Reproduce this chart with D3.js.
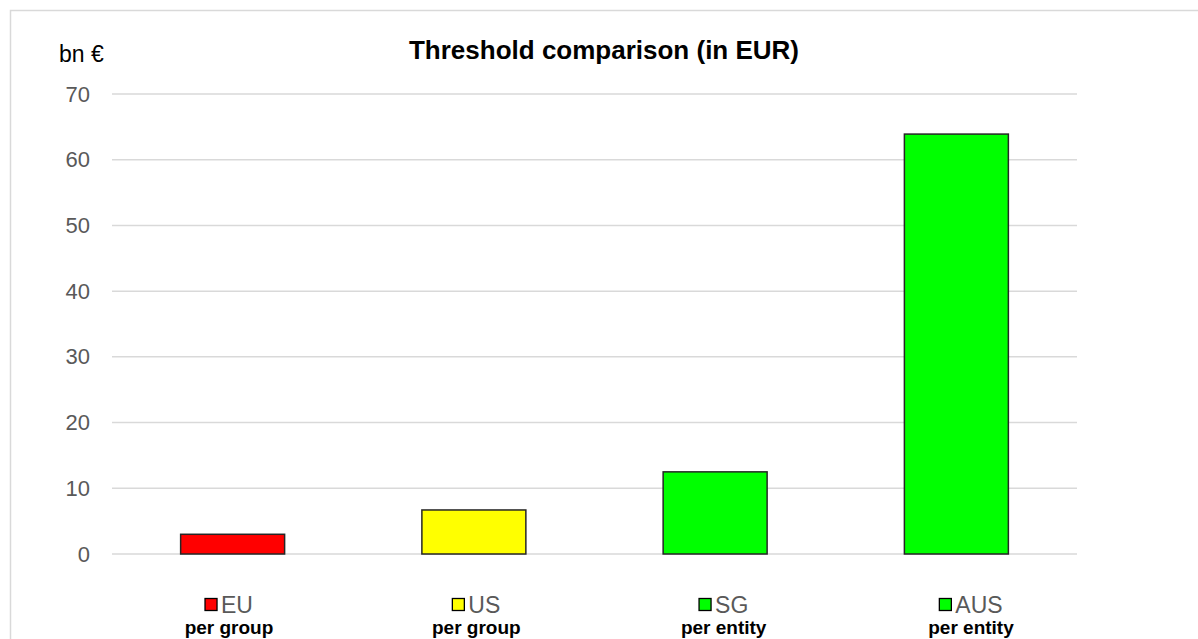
<!DOCTYPE html>
<html>
<head>
<meta charset="utf-8">
<script src="https://cdn.jsdelivr.net/npm/d3@7"></script>
<style>
  html, body { margin: 0; padding: 0; background: #fff; }
  svg { display: block; font-family: "Liberation Sans", Arial, sans-serif; }
</style>
</head>
<body>
<svg id="chart" width="1198" height="639"></svg>
<script>
// ---- data ----
const categories = ["EU", "US", "SG", "AUS"];
const values = [3.0, 6.7, 12.5, 63.9];
const scopeLabels = ["per group", "per group", "per entity", "per entity"];
const barColors = ["#ff0000", "#ffff00", "#00ff00", "#00ff00"];
const yTicks = [0, 10, 20, 30, 40, 50, 60, 70];
const titleText = "Threshold comparison (in EUR)";
const unitText = "bn €";

// ---- layout ----
const svg = d3.select("#chart");

// outer chart frame
svg.append("rect")
  .attr("x", 10.5).attr("y", 10.5)
  .attr("width", 1250).attr("height", 700)
  .attr("fill", "#fff").attr("stroke", "#d9d9d9").attr("stroke-width", 1.5);

const x = d3.scaleBand()
  .domain(categories)
  .range([112, 1077])
  .paddingInner(0.569)
  .paddingOuter(0.2845);

const y = d3.scaleLinear().domain([0, 70]).range([554, 94]);

// gridlines
svg.append("g").selectAll("line")
  .data(yTicks)
  .join("line")
  .attr("x1", 112).attr("x2", 1077)
  .attr("y1", d => y(d)).attr("y2", d => y(d))
  .attr("stroke", "#d9d9d9").attr("stroke-width", 1.5);

// y axis labels
const yAxis = d3.axisLeft(y).tickValues(yTicks).tickSize(0).tickPadding(0).tickFormat(d3.format("d"));
const gy = svg.append("g").attr("transform", "translate(90,0)").call(yAxis);
gy.select(".domain").remove();
gy.selectAll("text")
  .attr("fill", "#595959")
  .style("font-size", "22px")
  .style("font-family", "'Liberation Sans', Arial, sans-serif");

// bars
svg.append("g").selectAll("rect")
  .data(categories)
  .join("rect")
  .attr("x", d => x(d))
  .attr("width", x.bandwidth())
  .attr("y", (d, i) => y(values[i]))
  .attr("height", (d, i) => y(0) - y(values[i]))
  .attr("fill", (d, i) => barColors[i])
  .attr("stroke", "#262626")
  .attr("stroke-width", 1.5);

// title
svg.append("text")
  .attr("x", 604).attr("y", 59)
  .attr("text-anchor", "middle")
  .attr("font-weight", "bold")
  .attr("font-size", 26)
  .attr("fill", "#000")
  .text(titleText);

// unit label
svg.append("text")
  .attr("x", 59).attr("y", 62)
  .attr("font-size", 23)
  .attr("fill", "#000")
  .text(unitText);

// legend
const lx = d3.scalePoint().domain(categories).range([229, 971]);
const sq = 12, gap = 4;
const items = svg.append("g").selectAll("g")
  .data(categories)
  .join("g");

items.each(function(d, i) {
  const g = d3.select(this);
  const t = g.append("text")
    .attr("y", 613)
    .attr("font-size", 23)
    .attr("fill", "#595959")
    .text(d);
  const tw = t.node().getComputedTextLength();
  const total = sq + gap + tw;
  const left = lx(d) - total / 2;
  g.append("rect")
    .attr("x", left).attr("y", 598.5)
    .attr("width", sq).attr("height", sq)
    .attr("fill", barColors[i])
    .attr("stroke", "#000").attr("stroke-width", 1.3);
  t.attr("x", left + sq + gap);
  g.append("text")
    .attr("x", lx(d)).attr("y", 634)
    .attr("text-anchor", "middle")
    .attr("font-weight", "bold")
    .attr("font-size", 19)
    .attr("fill", "#000")
    .text(scopeLabels[i]);
});
</script>
</body>
</html>
